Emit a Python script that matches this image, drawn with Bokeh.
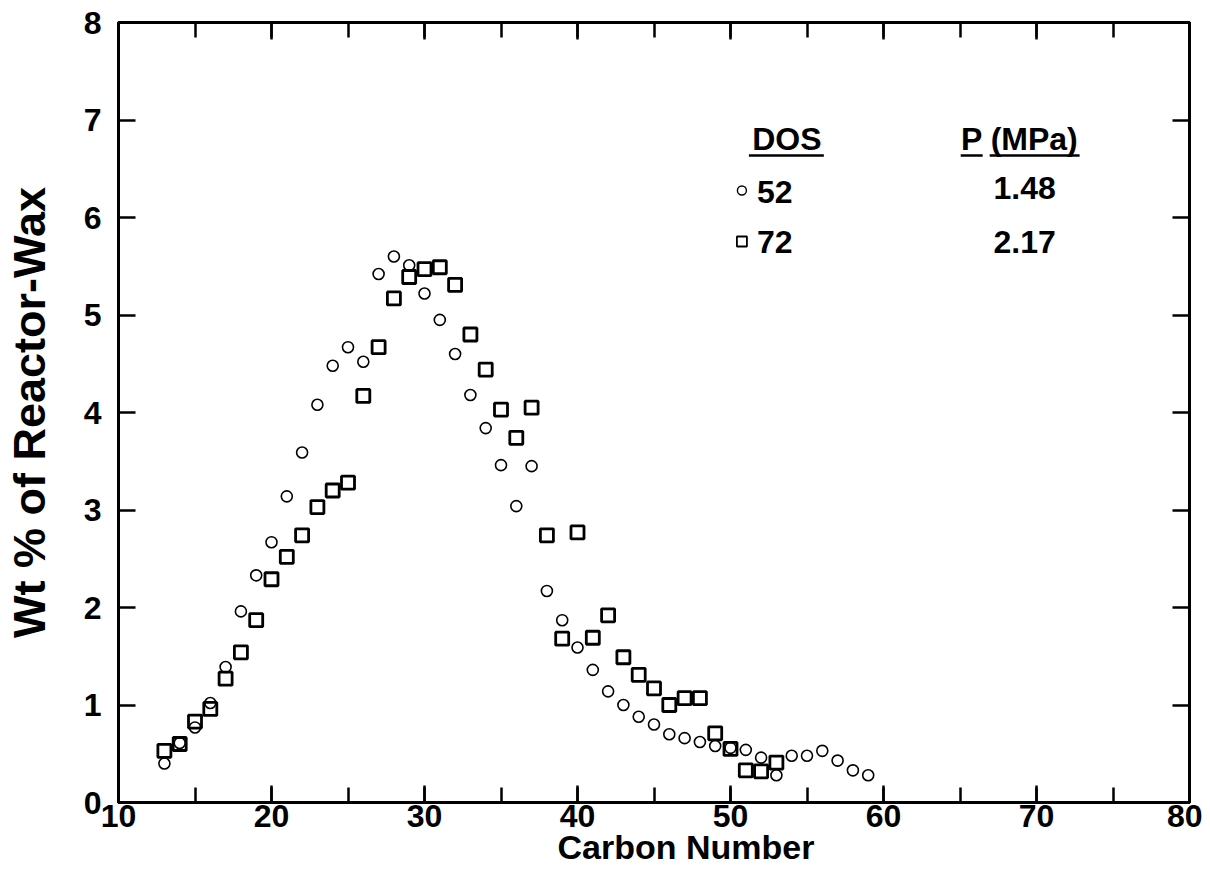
from bokeh.plotting import figure
from bokeh.models import (LinearAxis, SingleIntervalTicker, Range1d, Title,
                          CustomJSTickFormatter)
from bokeh.core.properties import value
from bokeh.embed import file_html
from bokeh.resources import INLINE

# ---- data ----
carbon_dos52 = list(range(13, 60))
wt_dos52 = [0.40, 0.61, 0.77, 1.02, 1.39, 1.96, 2.33, 2.67, 3.14, 3.59,
            4.08, 4.48, 4.67, 4.52, 5.42, 5.60, 5.51, 5.22, 4.95, 4.60,
            4.18, 3.84, 3.46, 3.04, 3.45, 2.17, 1.87, 1.59, 1.36, 1.14,
            1.00, 0.88, 0.80, 0.70, 0.66, 0.62, 0.58, 0.56, 0.54, 0.46,
            0.28, 0.48, 0.48, 0.53, 0.43, 0.33, 0.28]

carbon_dos72 = list(range(13, 54))
wt_dos72 = [0.53, 0.60, 0.83, 0.96, 1.27, 1.54, 1.87, 2.29, 2.52, 2.74,
            3.03, 3.20, 3.28, 4.17, 4.67, 5.17, 5.39, 5.47, 5.49, 5.31,
            4.80, 4.44, 4.03, 3.74, 4.05, 2.74, 1.68, 2.77, 1.69, 1.92,
            1.49, 1.31, 1.17, 1.00, 1.07, 1.07, 0.71, 0.55, 0.33, 0.32,
            0.41]

legend_dos = ["52", "72"]
legend_pressure = ["1.48", "2.17"]
x_title = "Carbon Number"
y_title = "Wt % of Reactor-Wax"

FONT = "Liberation Sans"

# ---- layout helpers (picture pixel -> data coordinates) ----
FL, FR, FT, FB = 117, 1189, 22, 802
XMIN, XMAX, YMIN, YMAX = 10, 80, 0, 8


def dx(px):
    return XMIN + (px - FL) * (XMAX - XMIN) / (FR - FL)


def dy(py):
    return YMIN + (FB - py) * (YMAX - YMIN) / (FB - FT)


p = figure(width=1202, height=880, output_backend="svg", toolbar_location=None,
           x_range=Range1d(XMIN, XMAX), y_range=Range1d(YMIN, YMAX),
           min_border_left=FL, min_border_top=FT,
           min_border_right=1202 - FR, min_border_bottom=880 - FB,
           background_fill_color="white", border_fill_color="white")
p.xgrid.visible = False
p.ygrid.visible = False
p.outline_line_color = "black"
p.outline_line_width = 3

blank = CustomJSTickFormatter(code="return '';")


def style_axis(ax, labels=True):
    ax.axis_line_color = "black"
    ax.axis_line_width = 3
    ax.major_tick_line_color = "black"
    ax.major_tick_line_width = 2.5
    ax.minor_tick_line_color = "black"
    ax.minor_tick_line_width = 2.5
    ax.major_tick_in = 17
    ax.major_tick_out = 0
    ax.minor_tick_in = 15
    ax.minor_tick_out = 0
    if labels:
        ax.major_label_text_font = FONT
        ax.major_label_text_font_style = "bold"
        ax.major_label_text_font_size = "32px"
        ax.major_label_text_color = "black"
    else:
        ax.formatter = blank
        ax.major_label_standoff = 0


p.xaxis.ticker = SingleIntervalTicker(interval=10, num_minor_ticks=2)
p.yaxis.ticker = SingleIntervalTicker(interval=1, num_minor_ticks=0)
style_axis(p.xaxis[0])
style_axis(p.yaxis[0])
p.xaxis.major_label_standoff = 2
p.yaxis.major_label_standoff = 17

p.yaxis.axis_label = y_title
p.yaxis.axis_label_text_font = FONT
p.yaxis.axis_label_text_font_style = "bold"
p.yaxis.axis_label_text_font_size = "45px"
p.yaxis.axis_label_text_color = "black"
p.yaxis.axis_label_standoff = 26

top = LinearAxis(ticker=SingleIntervalTicker(interval=10, num_minor_ticks=2))
style_axis(top, labels=False)
p.add_layout(top, "above")
right = LinearAxis(ticker=SingleIntervalTicker(interval=1, num_minor_ticks=0))
style_axis(right, labels=False)
p.add_layout(right, "right")

xt = Title(text=x_title, align="left", offset=556 - FL, standoff=-8,
           text_font=FONT, text_font_style="bold", text_font_size="34px",
           text_color="black")
p.add_layout(xt, "below")

# ---- data marks ----
p.scatter(carbon_dos52, wt_dos52, marker="circle", size=11,
          fill_color=None, line_color="black", line_width=1.6)
p.scatter(carbon_dos72, wt_dos72, marker="square", size=13,
          fill_color=None, line_color="black", line_width=2.8)

# ---- key ----
LEG = "32px"
p.text(x=[dx(786), dx(1019)], y=[dy(138), dy(138)], text=["DOS", "P (MPa)"],
       text_font=value(FONT), text_font_style="bold", text_font_size=LEG,
       text_align="center", text_baseline="middle", text_color="black")
p.segment(x0=[dx(748), dx(960), dx(989)], y0=[dy(155)] * 3,
          x1=[dx(823), dx(982), dx(1079)], y1=[dy(155)] * 3,
          line_color="black", line_width=2.5)
p.text(x=[dx(756)] * 2, y=[dy(191), dy(241)], text=legend_dos,
       text_font=value(FONT), text_font_style="bold", text_font_size=LEG,
       text_align="left", text_baseline="middle", text_color="black")
p.text(x=[dx(1024)] * 2, y=[dy(187), dy(241)], text=legend_pressure,
       text_font=value(FONT), text_font_style="bold", text_font_size=LEG,
       text_align="center", text_baseline="middle", text_color="black")
p.scatter([dx(741)], [dy(190)], marker="circle", size=9,
          fill_color=None, line_color="black", line_width=1.4)
p.scatter([dx(741)], [dy(241)], marker="square", size=10,
          fill_color=None, line_color="black", line_width=1.8)

open("out.html", "w").write(file_html(p, INLINE))
